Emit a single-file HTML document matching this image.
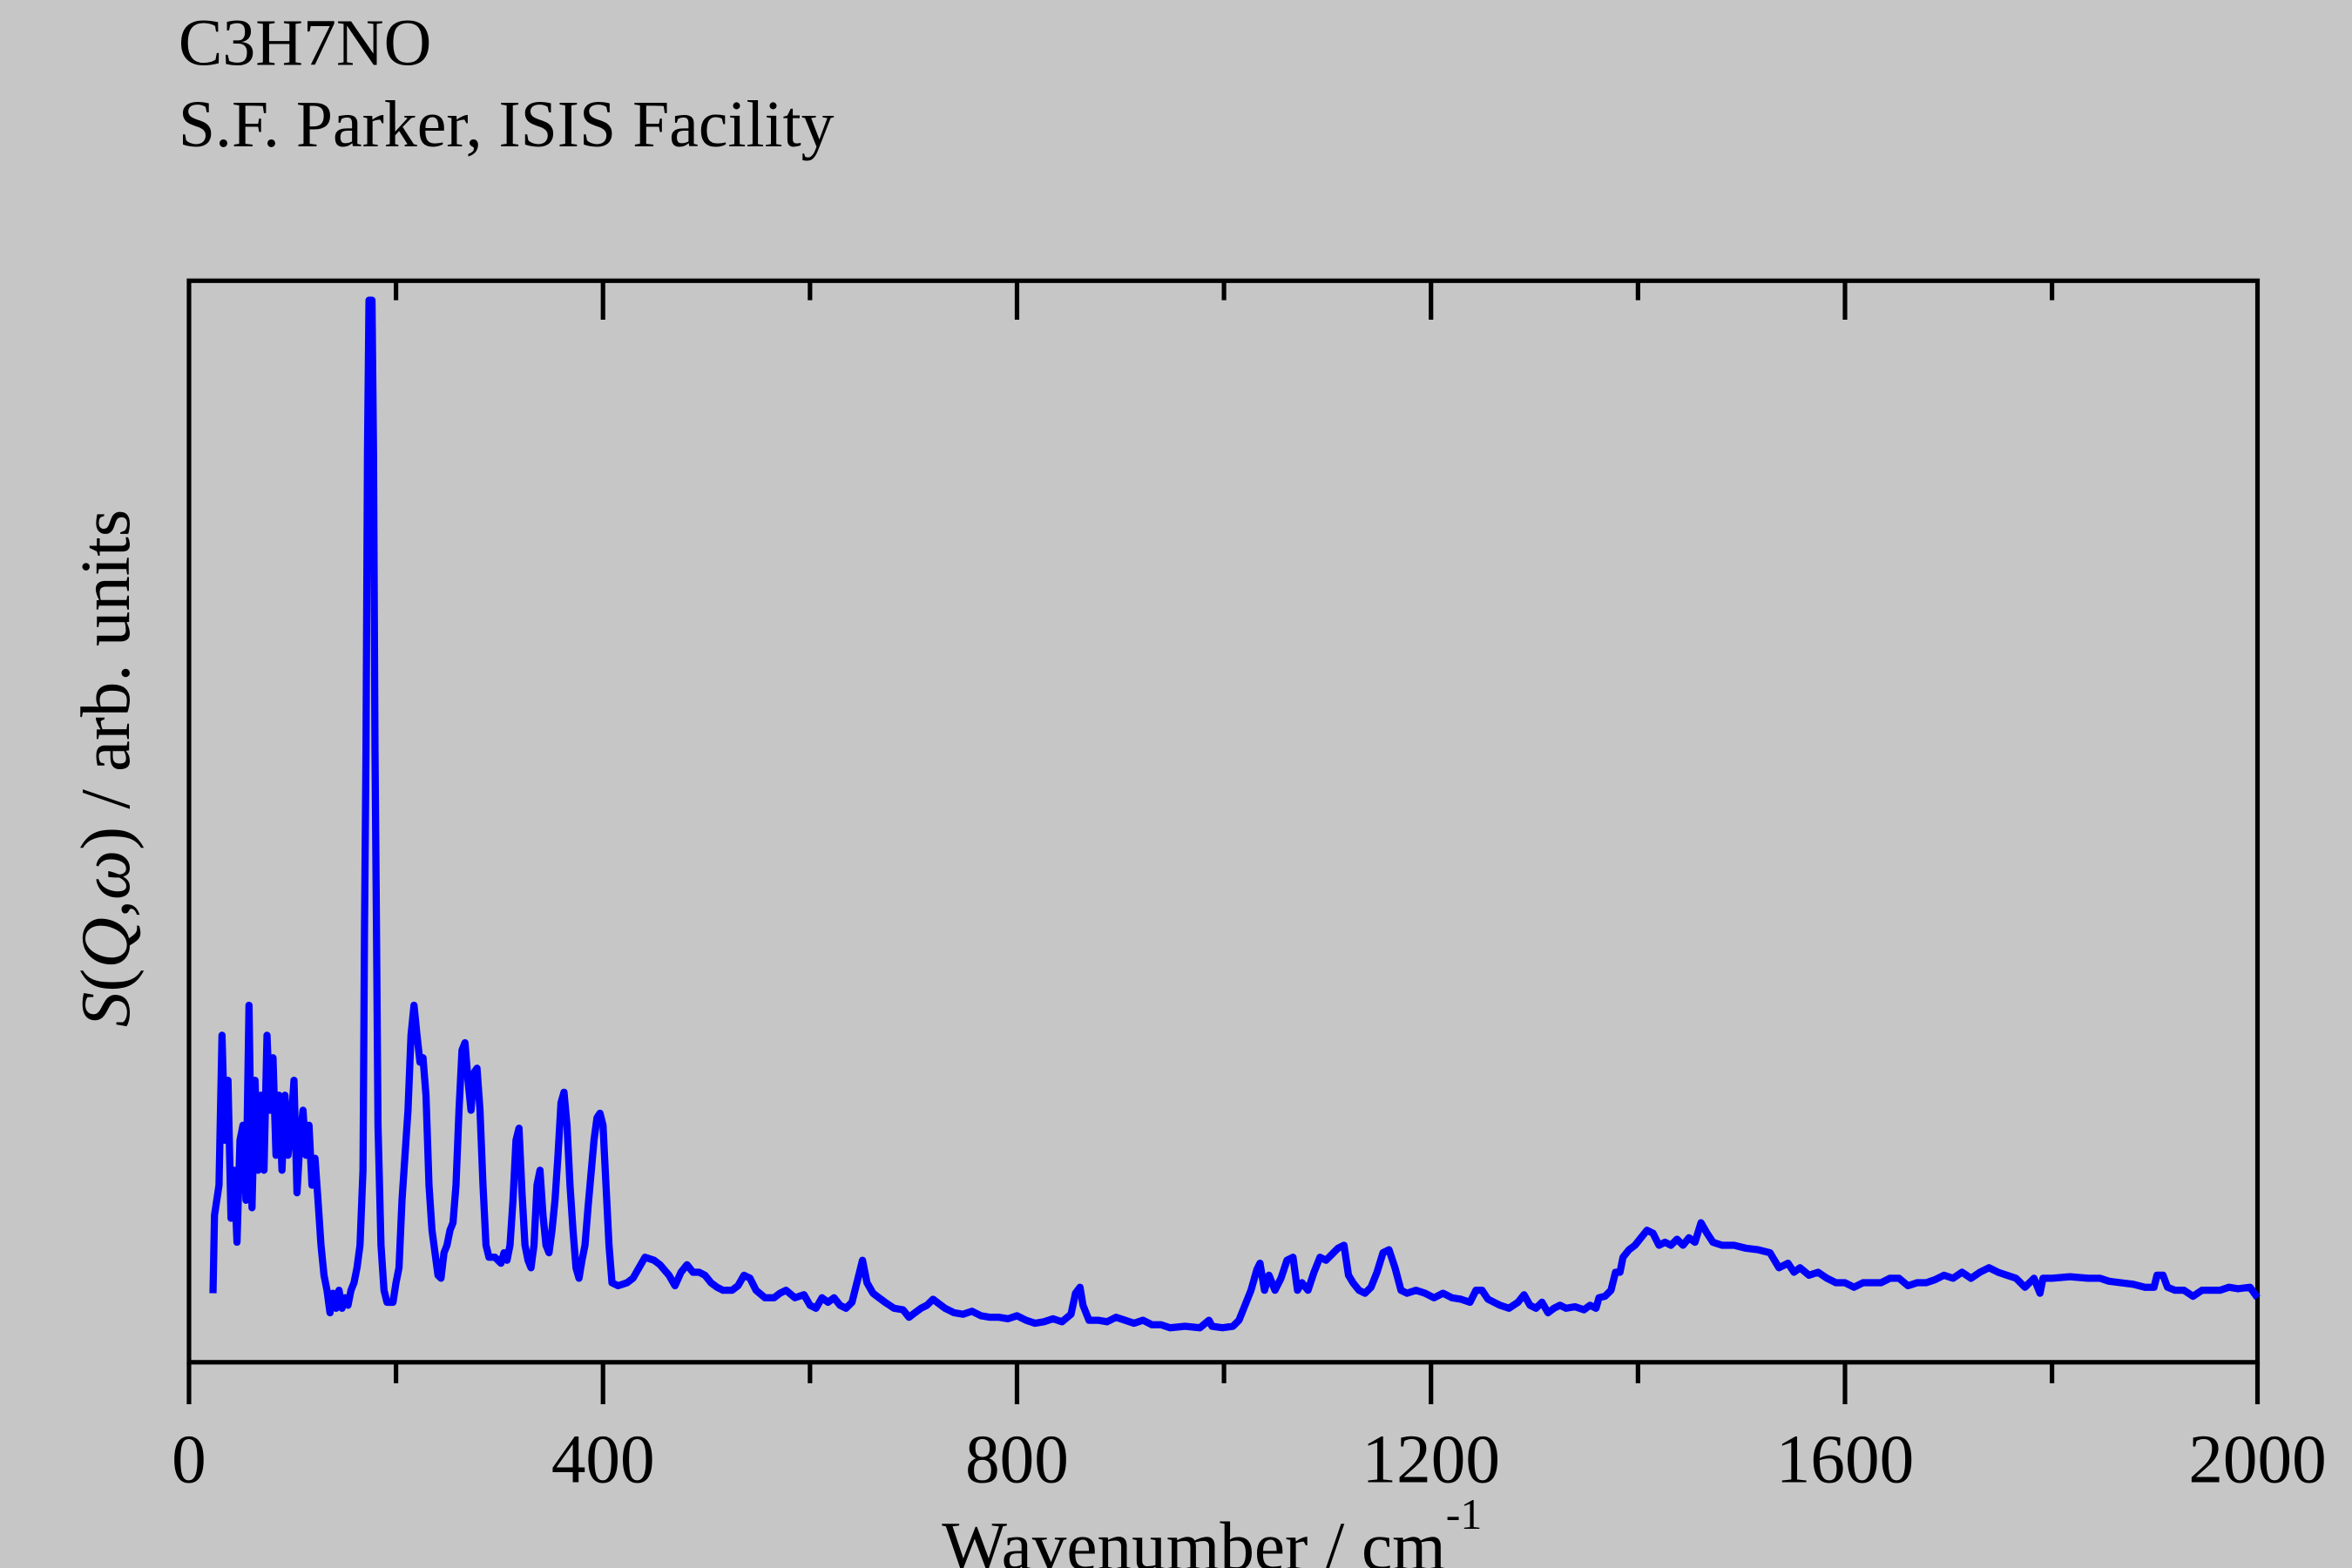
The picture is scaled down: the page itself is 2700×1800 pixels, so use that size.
<!DOCTYPE html>
<html><head><meta charset="utf-8"><style>
html,body{margin:0;padding:0;background:#c6c6c6;}
svg{display:block;}
text{font-family:"Liberation Serif",serif;fill:#000;}
</style></head><body>
<svg width="2700" height="1800" viewBox="0 0 1568 1045" xmlns="http://www.w3.org/2000/svg">
<rect width="1568" height="1045" fill="#c6c6c6"/>
<text x="119" y="43" font-size="44">C3H7NO</text>
<text x="119" y="97.5" font-size="44">S.F. Parker, ISIS Facility</text>
<g stroke="#000" stroke-width="3" fill="none">
<rect x="126" y="187" width="1379" height="721"/>
<path d="M126 908V936 M402 908V936 M678 908V936 M954 908V936 M1230 908V936 M1505 908V936
M264 908V922 M540 908V922 M816 908V922 M1092 908V922 M1368 908V922
M402 187V213 M678 187V213 M954 187V213 M1230 187V213
M264 187V200 M540 187V200 M816 187V200 M1092 187V200 M1368 187V200"/>
</g>
<g font-size="46" text-anchor="middle">
<text x="126" y="988">0</text><text x="402" y="988">400</text><text x="678" y="988">800</text>
<text x="954" y="988">1200</text><text x="1230" y="988">1600</text><text x="1505" y="988">2000</text>
</g>
<text x="808" y="1046" font-size="46" text-anchor="middle">Wavenumber / cm<tspan font-size="29" dy="-27">-1</tspan></text>
<text transform="translate(86,512) rotate(-90)" font-size="47" text-anchor="middle"><tspan font-style="italic">S</tspan>(<tspan font-style="italic">Q</tspan>,<tspan font-style="italic">ω</tspan>) / arb. units</text>
<polyline fill="none" stroke="#0000ff" stroke-width="4.8" stroke-linejoin="round" points="142,862 143,810 146,790 148,690 150,760 152,720 154,812 156,780 158,828 160,760 162,750 164,800 166,670 168,805 170,720 172,780 174,730 176,780 178,690 180,740 182,705 184,770 186,730 188,780 190,730 192,770 194,750 196,720 198,795 200,760 202,740 204,770 206,750 208,790 210,772 212,800 214,830 216,850 218,860 220,875 222,862 224,872 226,860 228,872 230,865 232,870 234,860 236,855 238,845 240,830 242,780 243,620 244,500 245,300 246,200 248,200 249,300 250,500 251,620 252,750 254,830 256,860 258,868 262,868 264,855 266,845 268,800 270,770 272,740 274,690 276,670 278,690 280,708 282,705 284,730 286,790 288,820 290,835 292,850 294,852 296,835 298,830 300,820 302,815 304,790 306,740 308,700 310,695 312,720 314,740 316,715 318,712 320,740 322,790 324,830 326,838 330,838 334,842 336,835 338,840 340,830 342,800 344,760 346,752 348,795 350,830 352,840 354,845 356,830 358,790 360,780 362,810 364,830 366,835 368,820 370,800 372,770 374,735 376,728 378,750 380,790 382,820 384,845 386,852 388,840 390,830 392,805 396,760 398,745 400,742 402,750 404,790 406,830 408,855 412,857 418,855 422,852 426,845 430,838 436,840 440,843 446,850 450,857 454,848 458,843 462,848 466,848 470,850 474,855 478,858 482,860 488,860 492,857 496,850 500,852 504,860 510,865 516,865 520,862 524,860 530,865 536,863 540,870 544,872 548,865 552,868 556,865 560,870 564,872 568,868 572,852 575,840 578,855 582,862 586,865 590,868 596,872 602,873 606,878 610,875 614,872 618,870 622,866 626,869 630,872 636,875 642,876 648,874 654,877 660,878 666,878 672,879 678,877 684,880 690,882 696,881 702,879 708,881 714,876 717,862 720,858 722,870 726,880 732,880 738,881 744,878 750,880 756,882 762,880 768,883 774,883 780,885 790,884 800,885 806,880 808,884 815,885 822,884 826,880 830,870 834,860 838,846 840,842 843,860 846,850 850,860 854,852 858,840 862,838 865,860 868,855 872,860 876,848 880,838 884,840 888,836 892,832 896,830 899,850 902,855 906,860 910,862 914,858 918,848 922,835 926,833 930,845 934,860 938,862 944,860 950,862 956,865 962,862 968,865 974,866 980,868 984,860 988,860 992,866 996,868 1000,870 1006,872 1012,868 1016,863 1020,870 1024,872 1028,868 1032,875 1036,872 1040,870 1044,872 1050,871 1056,873 1060,870 1064,872 1066,865 1070,864 1074,860 1077,848 1080,848 1082,838 1086,833 1090,830 1094,825 1098,820 1102,822 1106,830 1110,828 1114,830 1118,826 1122,830 1126,825 1130,828 1134,815 1138,822 1142,828 1148,830 1156,830 1164,832 1172,833 1180,835 1186,845 1192,842 1196,848 1200,845 1206,850 1212,848 1218,852 1224,855 1230,855 1236,858 1242,855 1248,855 1254,855 1260,852 1266,852 1272,857 1278,855 1284,855 1290,853 1296,850 1302,852 1308,848 1314,852 1320,848 1326,845 1332,848 1338,850 1344,852 1350,858 1356,852 1360,862 1362,852 1368,852 1380,851 1392,852 1400,852 1406,854 1414,855 1422,856 1430,858 1436,858 1438,850 1442,850 1445,858 1450,860 1456,860 1462,864 1468,860 1474,860 1480,860 1486,858 1492,859 1500,858 1505,865"/>
</svg>
</body></html>
